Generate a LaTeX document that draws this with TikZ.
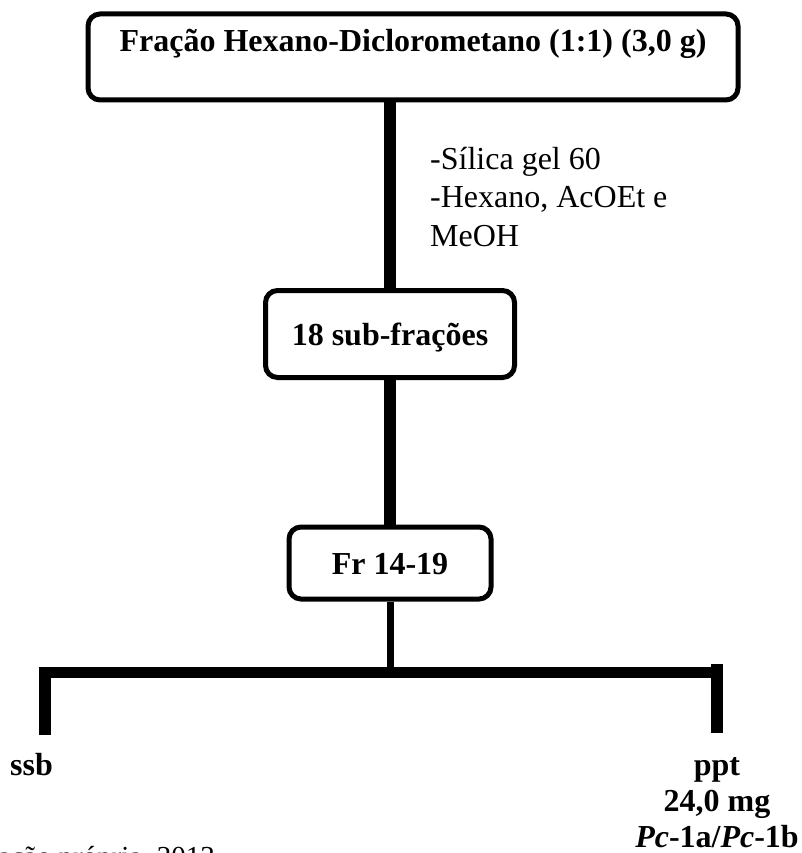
\documentclass[tikz,border=0pt]{standalone}
\usepackage{fontspec}
\setmainfont{Liberation Serif}
\usepackage{tikz}
\usetikzlibrary{positioning,calc}

\begin{document}
\begin{tikzpicture}[x=1pt,y=-1pt,
    every node/.style={font=\fontsize{32}{38.5}\selectfont,inner sep=0pt},
    caixa/.style={draw,line width=5pt,rounded corners=12pt,
      font=\fontsize{32}{38.5}\selectfont\bfseries,text height=22pt,text depth=0pt},
    haste/.style={line width=12pt},
    rotulo/.style={font=\fontsize{32}{36}\selectfont\bfseries}]
  \useasboundingbox (0,0) rectangle (801,853);
  \clip (0,0) rectangle (801,853);
  % Fraction boxes
  \node[caixa,minimum width=650pt,minimum height=86pt,text depth=32pt] (fracao) at (413,57)
     {Fração Hexano-Diclorometano (1:1) (3,0 g)};
  \node[caixa,minimum width=249pt,minimum height=87pt] (sub) at (390,334) {18 sub-frações};
  \node[caixa,minimum width=202pt,minimum height=72pt] (fr) at (390,563) {Fr 14-19};
  % Column conditions
  \node[anchor=north west,align=left] (cond) at (430,147)
     {-Sílica gel 60\\-Hexano, AcOEt e\\MeOH};
  % Stems between the boxes
  \draw[haste] (sub.north |- fracao.south) -- (sub.north);
  \draw[haste] (sub.south) -- (fr.north);
  \coordinate (ramo) at (390,672.5);
  \draw[line width=7pt] (fr.south) -- (ramo);
  % Split into the two products
  \coordinate (barraE) at (39,672.5);
  \coordinate (barraD) at (723,672.5);
  \draw[line width=11pt] (barraE) -- (barraD);
  \coordinate (esqA) at (45,667);
  \coordinate (esqB) at (45,735);
  \coordinate (dirA) at (717,664);
  \coordinate (dirB) at (717,733);
  \draw[haste] (esqA) -- (esqB);
  \draw[haste] (dirA) -- (dirB);
  % Products
  \node[rotulo,anchor=base west] (ssb) at (10,775) {ssb};
  \node[rotulo,anchor=north,align=center] (ppt) at (717,757)
     {ppt\\24,0 mg\\\textit{Pc}-1a/\textit{Pc}-1b};
  % Source line, cut by the page edge
  \node[anchor=base east,font=\fontsize{29}{34}\selectfont] (fonte) at (215,866)
     {Fonte: Elaboração própria, 2013};
\end{tikzpicture}
\end{document}
